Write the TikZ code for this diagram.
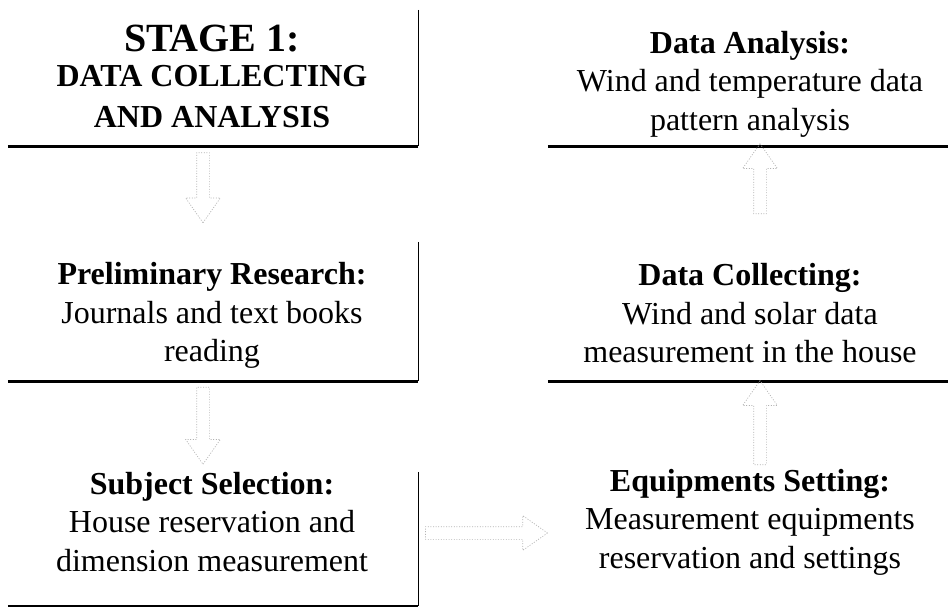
\documentclass[tikz,border=0pt]{standalone}
\usepackage{fontspec}
\setmainfont{Liberation Serif}
\usetikzlibrary{shapes.arrows,calc}
\begin{document}
\begin{tikzpicture}[x=1pt,y=-1pt,
  lbox/.style={minimum width=410pt, inner sep=0pt},
  rbox/.style={minimum width=404pt, inner sep=0pt},
  txt/.style={align=center, inner sep=0pt, font=\fontsize{32}{38.5}\selectfont},
  sideline/.style={line width=1.3pt, black},
  shadowline/.style={line width=2.8pt, black},
  blockarrow/.style={single arrow, draw=black!30, line width=0.7pt, dash pattern=on 1pt off 1.6pt,
     inner sep=6pt, single arrow head extend=11pt, single arrow tip angle=70}]
\useasboundingbox (0,0) rectangle (948,607);
\clip (0,0) rectangle (948,607);

% boxes (shadowed text boxes)
\node[lbox, minimum height=136pt] (b1) at (213,78) {};
\node[lbox, minimum height=139pt] (b2) at (213,311.5) {};
\node[lbox, minimum height=134pt] (b3) at (213,539) {};
\node[rbox, minimum height=136pt] (r1) at (750,78) {};
\node[rbox, minimum height=139pt] (r2) at (750,311.5) {};
\node[rbox, minimum height=134pt] (r3) at (750,539) {};

% texts
\node[txt] (t1) at ($(b1.center)+(-1,-2)$)
  {{\fontsize{40}{44}\selectfont\textbf{STAGE 1:}}\\[-3pt]\textbf{DATA COLLECTING}\\[2pt]\textbf{AND ANALYSIS}};
\node[txt] (t2) at ($(b2.center)+(-1,4)$)
  {\textbf{Preliminary Research:}\\Journals and text books\\reading};
\node[txt] (t3) at ($(b3.center)+(-1,-17)$)
  {\textbf{Subject Selection:}\\House reservation and\\dimension measurement};
\node[txt] (t4) at ($(r1.center)+(0,6)$)
  {\textbf{Data Analysis:}\\Wind and temperature data\\pattern analysis};
\node[txt] (t5) at ($(r2.center)+(0,2)$)
  {\textbf{Data Collecting:}\\Wind and solar data\\measurement in the house};
\node[txt] (t6) at ($(r3.center)+(0,-17)$)
  {\textbf{Equipments Setting:}\\Measurement equipments\\reservation and settings};

% box edges
\foreach \b in {b1,b2,b3}{
  \draw[sideline] (\b.north east) -- (\b.south east);
  \draw[shadowline] (\b.south west) -- (\b.south east);
}
\foreach \b in {r1,r2}{
  \draw[shadowline] (\b.south west) -- ([xshift=10pt]\b.south east);
}

% faint dotted block arrows
\node[blockarrow, rotate=-90, minimum height=70pt] (a1) at ($(b1.south)+(-10,37)$) {};
\node[blockarrow, rotate=-90, minimum height=77pt] (a2) at ($(b2.south)+(-10,40)$) {};
\node[blockarrow, minimum height=122pt] (a3) at ($(b3.east)!0.5!(r3.west)+(-1,-6)$) {};
\node[blockarrow, rotate=90, minimum height=84pt] (a4) at ($(r2.south)+(10,46)$) {};
\node[blockarrow, rotate=90, minimum height=70pt] (a5) at ($(r1.south)+(10,37)$) {};
\end{tikzpicture}
\end{document}
